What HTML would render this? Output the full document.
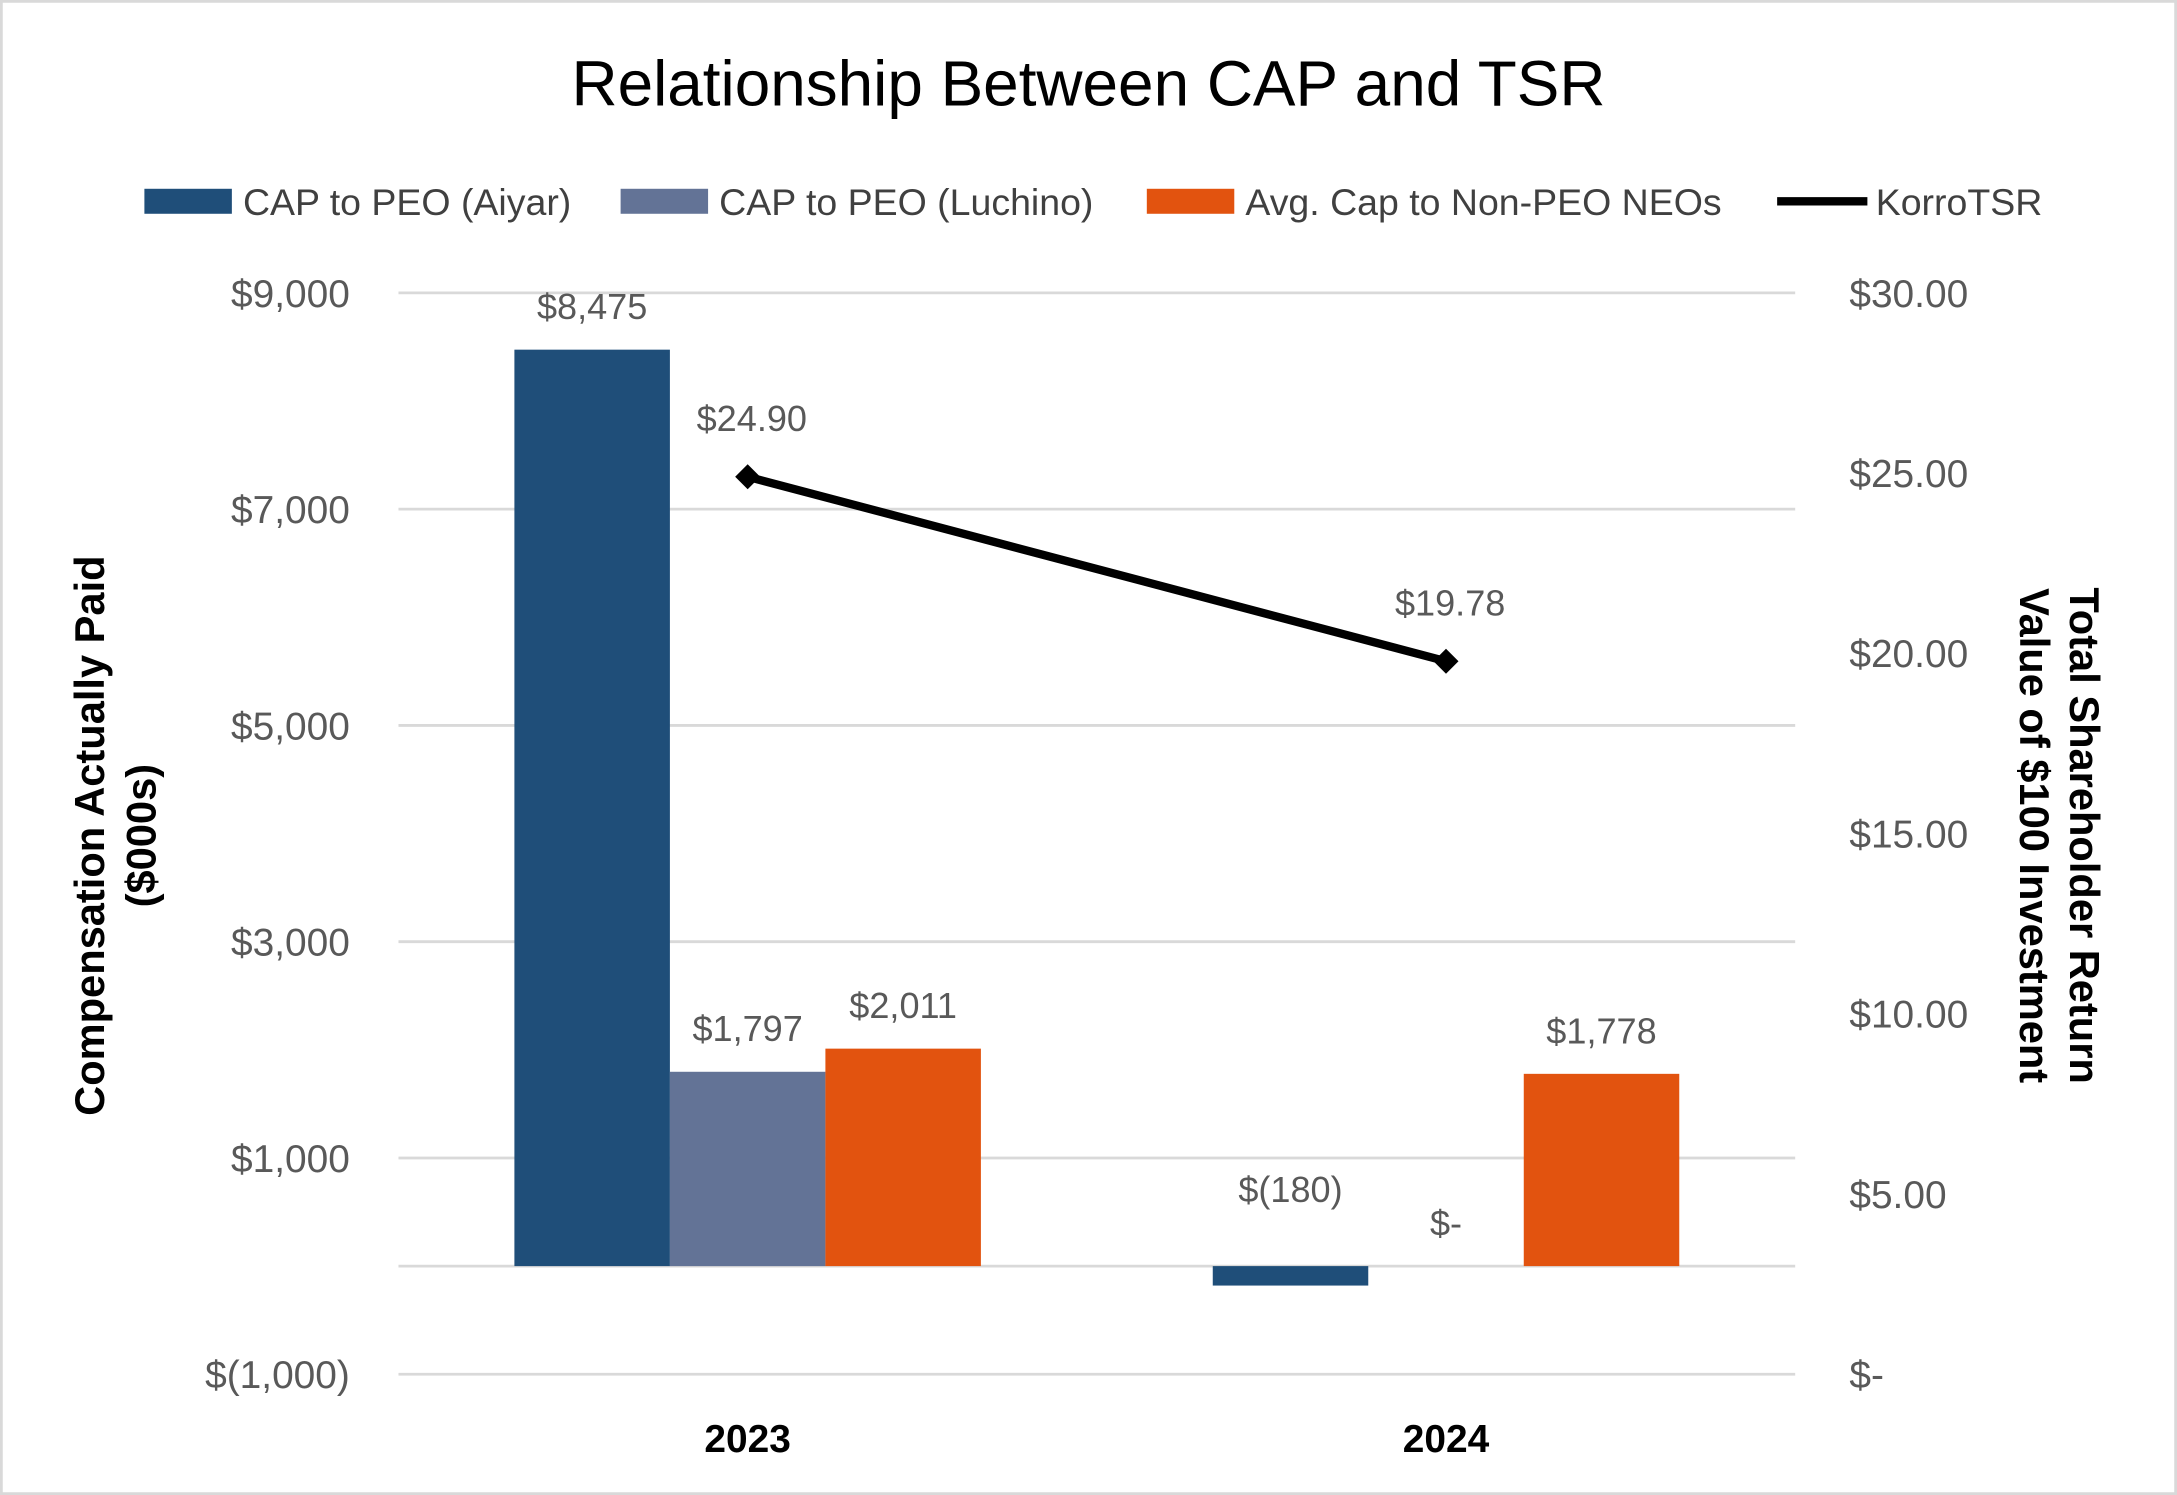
<!DOCTYPE html>
<html><head><meta charset="utf-8">
<style>
html,body{margin:0;padding:0;background:#fff;}
svg{display:block;font-family:"Liberation Sans","DejaVu Sans",sans-serif;}
</style></head>
<body>
<svg id="chart" width="2177" height="1495" viewBox="0 0 1568 1077" preserveAspectRatio="none" xmlns="http://www.w3.org/2000/svg">
<rect x="1" y="1" width="1566" height="1075" fill="#fff" stroke="#d9d9d9" stroke-width="2"/>
<text x="784" y="76" text-anchor="middle" font-size="46" fill="#000">Relationship Between CAP and TSR</text>
<g font-size="27" fill="#404040">
 <g><rect x="104" y="136" width="63" height="18" fill="#1F4E79"/><text x="175" y="155">CAP to PEO (Aiyar)</text></g>
 <g><rect x="447" y="136" width="63" height="18" fill="#637396"/><text x="518" y="155">CAP to PEO (Luchino)</text></g>
 <g><rect x="826" y="136" width="63" height="18" fill="#E2530F"/><text x="897" y="155">Avg. Cap to Non-PEO NEOs</text></g>
 <g><line x1="1280" y1="145" x2="1345" y2="145" stroke="#000" stroke-width="6"/><text x="1351" y="155">KorroTSR</text></g>
</g>
<g id="grid"></g><g id="bars"></g><g id="line"></g><g id="labels"></g><g id="axes"></g>
<text transform="translate(75,602) rotate(-90)" text-anchor="middle" font-size="30" font-weight="bold" fill="#000">Compensation Actually Paid</text>
<text transform="translate(112,602) rotate(-90)" text-anchor="middle" font-size="30" font-weight="bold" fill="#000">($000s)</text>
<text transform="translate(1491,602) rotate(90)" text-anchor="middle" font-size="30" font-weight="bold" fill="#000">Total Shareholder Return</text>
<text transform="translate(1455,602) rotate(90)" text-anchor="middle" font-size="30" font-weight="bold" fill="#000">Value of $100 Investment</text>
</svg>
<script>
const categories = ["2023", "2024"];
const aiyar = [8475, -180];
const luchino = [1797, 0];
const nonPeo = [2011, 1778];
const tsr = [24.90, 19.78];
const aiyarLabels = ["$8,475", "$(180)"];
const luchinoLabels = ["$1,797", "$-"];
const nonPeoLabels = ["$2,011", "$1,778"];
const tsrLabels = ["$24.90", "$19.78"];
const leftTicks = [-1000, 1000, 3000, 5000, 7000, 9000];
const leftTickLabels = ["$(1,000)", "$1,000", "$3,000", "$5,000", "$7,000", "$9,000"];
const rightTicks = [0, 5, 10, 15, 20, 25, 30];
const rightTickLabels = ["$-", "$5.00", "$10.00", "$15.00", "$20.00", "$25.00", "$30.00"];

const NS = "http://www.w3.org/2000/svg";
const plotL = 287, plotR = 1293, plotT = 211, plotB = 990;
const yL = v => plotB - (v + 1000) / 10000 * (plotB - plotT);
const yR = v => plotB - v / 30 * (plotB - plotT);
const catW = (plotR - plotL) / categories.length;
const xC = i => plotL + catW * (i + 0.5);
const barW = 112;
function mk(tag, attrs, parent, txt) {
  const e = document.createElementNS(NS, tag);
  for (const k in attrs) e.setAttribute(k, attrs[k]);
  if (txt !== undefined) e.textContent = txt;
  document.getElementById(parent).appendChild(e);
  return e;
}
leftTicks.forEach((t, i) => {
  const g = mk("line", {x1: plotL, x2: plotR, y1: yL(t), y2: yL(t), stroke: "#d9d9d9", "stroke-width": 2}, "grid");
  
  
  const l = mk("text", {x: 252, y: yL(t) + 10, "text-anchor": "end", "font-size": 28, fill: "#595959"}, "axes", leftTickLabels[i]);
  
  
});
const z = mk("line", {x1: plotL, x2: plotR, y1: yL(0), y2: yL(0), stroke: "#d9d9d9", "stroke-width": 2}, "grid");


rightTicks.forEach((t, i) => {
  const l = mk("text", {x: 1332, y: yR(t) + 10, "font-size": 28, fill: "#595959"}, "axes", rightTickLabels[i]);
  
  
});
categories.forEach((c, i) => {
  const l = mk("text", {x: xC(i), y: 1046, "text-anchor": "middle", "font-size": 28, "font-weight": "bold", fill: "#000"}, "axes", c);
  
  
});
const series = [[aiyar, aiyarLabels, "#1F4E79", "bar-aiyar"], [luchino, luchinoLabels, "#637396", "bar-luchino"], [nonPeo, nonPeoLabels, "#E2530F", "bar-non-peo"]];
categories.forEach((c, i) => {
  series.forEach((s, j) => {
    const v = s[0][i];
    const x = xC(i) - 1.5 * barW + j * barW;
    const y0 = yL(0), y1 = yL(v);
    const r = mk("rect", {x: x, y: Math.min(y0, y1), width: barW, height: Math.abs(y1 - y0), fill: s[2]}, "bars");
    
    
    let ly = v > 0 ? y1 - 22 : (v < 0 ? y0 - 46 : y0 - 22);
    const t = mk("text", {x: x + barW / 2, y: ly, "text-anchor": "middle", "font-size": 26, fill: "#595959"}, "labels", s[1][i]);
    
    
  });
});
const pts = tsr.map((v, i) => [xC(i), yR(v)]);
const pl = mk("polyline", {points: pts.map(p => p.join(",")).join(" "), fill: "none", stroke: "#000", "stroke-width": 6}, "line");


pts.forEach((p, i) => {
  const d = mk("polygon", {points: `${p[0]},${p[1]-9} ${p[0]+9},${p[1]} ${p[0]},${p[1]+9} ${p[0]-9},${p[1]}`, fill: "#000"}, "line");
  
  
  const t = mk("text", {x: p[0] + 3, y: p[1] - 33, "text-anchor": "middle", "font-size": 26, fill: "#595959"}, "labels", tsrLabels[i]);
  
  
});
</script>
</body></html>
